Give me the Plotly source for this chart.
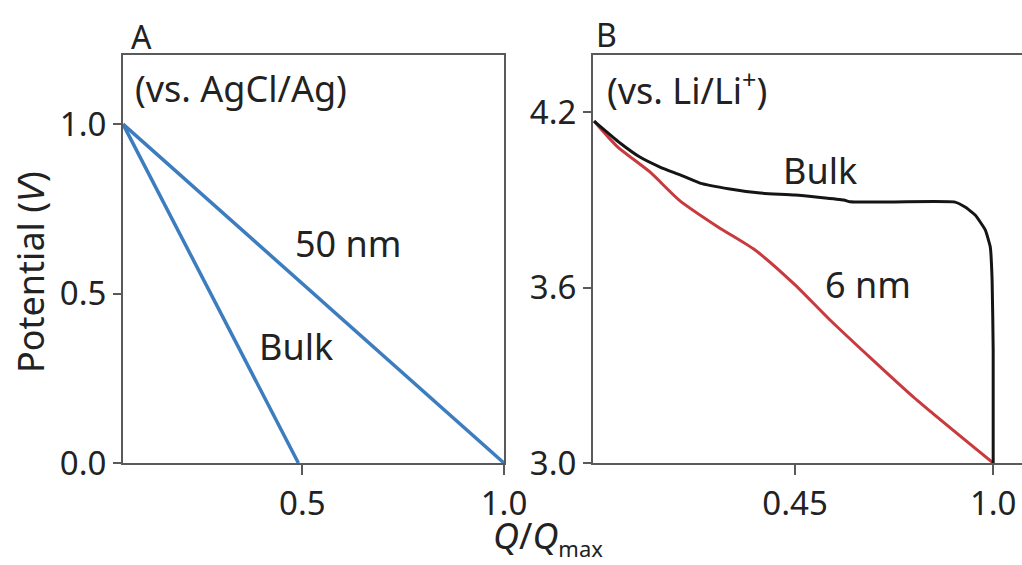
import plotly.graph_objects as go

# ---- data ----
# Panel A (vs. AgCl/Ag)
a_50nm_x = [0.055, 1.0]
a_50nm_y = [1.0, 0.0]
a_bulk_x = [0.055, 0.49]
a_bulk_y = [1.0, 0.0]
a_xticks = [0.5, 1.0]
a_xticklabels = ["0.5", "1.0"]
a_yticks = [0.0, 0.5, 1.0]
a_yticklabels = ["0.0", "0.5", "1.0"]

# Panel B (vs. Li/Li+)
b_bulk_x = [-0.108, -0.092, -0.036, 0.019, 0.075, 0.131, 0.186, 0.269, 0.353,
            0.450, 0.585, 0.603, 0.686, 0.894, 0.922, 0.950, 0.978, 0.992,
            0.997, 1.0, 1.0]
b_bulk_y = [4.169, 4.152, 4.094, 4.046, 4.012, 3.985, 3.957, 3.937, 3.923,
            3.916, 3.899, 3.893, 3.892, 3.892, 3.875, 3.848, 3.797, 3.738,
            3.626, 3.386, 3.0]
b_6nm_x = [-0.108, -0.042, 0.047, 0.128, 0.236, 0.339, 0.450, 0.547, 0.778, 1.0]
b_6nm_y = [4.169, 4.080, 3.995, 3.899, 3.807, 3.728, 3.609, 3.489, 3.226, 3.0]
b_xticks = [0.45, 1.0]
b_xticklabels = ["0.45", "1.0"]
b_yticks = [3.0, 3.6, 4.2]
b_yticklabels = ["3.0", "3.6", "4.2"]

FONT = "Noto Sans"
AXCOL = "#5a5a5a"
TXT = "#222222"
BLUE = "#3c7dbf"
RED = "#c93a3e"
BLACK = "#151515"

fig = go.Figure()
fig.add_trace(go.Scatter(x=a_50nm_x, y=a_50nm_y, mode="lines",
                         line=dict(color=BLUE, width=3.5), xaxis="x", yaxis="y"))
fig.add_trace(go.Scatter(x=a_bulk_x, y=a_bulk_y, mode="lines",
                         line=dict(color=BLUE, width=3.5), xaxis="x", yaxis="y"))
fig.add_trace(go.Scatter(x=b_6nm_x, y=b_6nm_y, mode="lines",
                         line=dict(color=RED, width=3, shape="spline", smoothing=0.6),
                         xaxis="x2", yaxis="y2"))
fig.add_trace(go.Scatter(x=b_bulk_x, y=b_bulk_y, mode="lines",
                         line=dict(color=BLACK, width=3, shape="spline", smoothing=0.4),
                         xaxis="x2", yaxis="y2"))

ydom = [102 / 565, 510 / 565]
common = dict(showline=True, linecolor=AXCOL, linewidth=2, ticks="outside",
              tickcolor=AXCOL, tickwidth=2, showgrid=False, automargin=False,
              zeroline=False, tickfont=dict(family=FONT, size=33, color=TXT))

fig.update_layout(
    template="none",
    width=1022, height=565,
    margin=dict(l=0, r=0, t=0, b=0, pad=0),
    paper_bgcolor="white", plot_bgcolor="white",
    showlegend=False,
    xaxis=dict(domain=[123 / 1022, 504 / 1022], range=[0.055, 1.0], mirror=True,
               tickvals=a_xticks, ticktext=a_xticklabels, anchor="y", ticklen=10,
               **common),
    yaxis=dict(domain=ydom, range=[0, 1.204], mirror=True,
               tickvals=a_yticks, ticktext=a_yticklabels, anchor="x", ticklen=8,
               **common),
    xaxis2=dict(domain=[593 / 1022, 1.0], range=[-0.111, 1.08], mirror=True,
                tickvals=b_xticks, ticktext=b_xticklabels, anchor="y2", ticklen=10,
                **common),
    yaxis2=dict(domain=ydom, range=[3.0, 4.395], mirror=False,
                tickvals=b_yticks, ticktext=b_yticklabels, anchor="x2", ticklen=8,
                **common),
)

tf = dict(family=FONT, size=36, color=TXT)
lf = dict(family=FONT, size=32, color=TXT)
ann = [
    dict(text="A", x=129 / 1022, y=1 - 36 / 565, xref="paper", yref="paper",
         xanchor="left", yanchor="middle", showarrow=False, font=lf),
    dict(text="B", x=594 / 1022, y=1 - 34 / 565, xref="paper", yref="paper",
         xanchor="left", yanchor="middle", showarrow=False, font=lf),
    dict(text="(vs. AgCl/Ag)", x=0.08, y=1.106, xref="x", yref="y",
         xanchor="left", yanchor="middle", showarrow=False, font=tf),
    dict(text="50 nm", x=0.612, y=0.649, xref="x", yref="y",
         showarrow=False, font=tf),
    dict(text="Bulk", x=0.483, y=0.345, xref="x", yref="y",
         showarrow=False, font=tf),
    dict(text="(vs. Li/Li<sup>+</sup>)", x=-0.078, y=4.282, xref="x2", yref="y2",
         xanchor="left", yanchor="middle", showarrow=False, font=tf),
    dict(text="Bulk", x=0.519, y=4.0, xref="x2", yref="y2",
         showarrow=False, font=tf),
    dict(text="6 nm", x=0.653, y=3.609, xref="x2", yref="y2",
         showarrow=False, font=tf),
    dict(text="Potential (<i>V</i>)", x=30 / 1022, y=1 - 272 / 565,
         xref="paper", yref="paper", xanchor="center", yanchor="middle",
         textangle=-90, showarrow=False,
         font=dict(family=FONT, size=36, color=TXT)),
    dict(text="<i>Q</i>/<i>Q</i><sub><span style='font-size:22px'>max</span></sub>",
         x=548 / 1022, y=0, xref="paper", yref="paper", xanchor="center",
         yanchor="bottom", showarrow=False,
         font=dict(family=FONT, size=36, color=TXT)),
]
fig.update_layout(annotations=ann)

fig.write_html("out.html")
